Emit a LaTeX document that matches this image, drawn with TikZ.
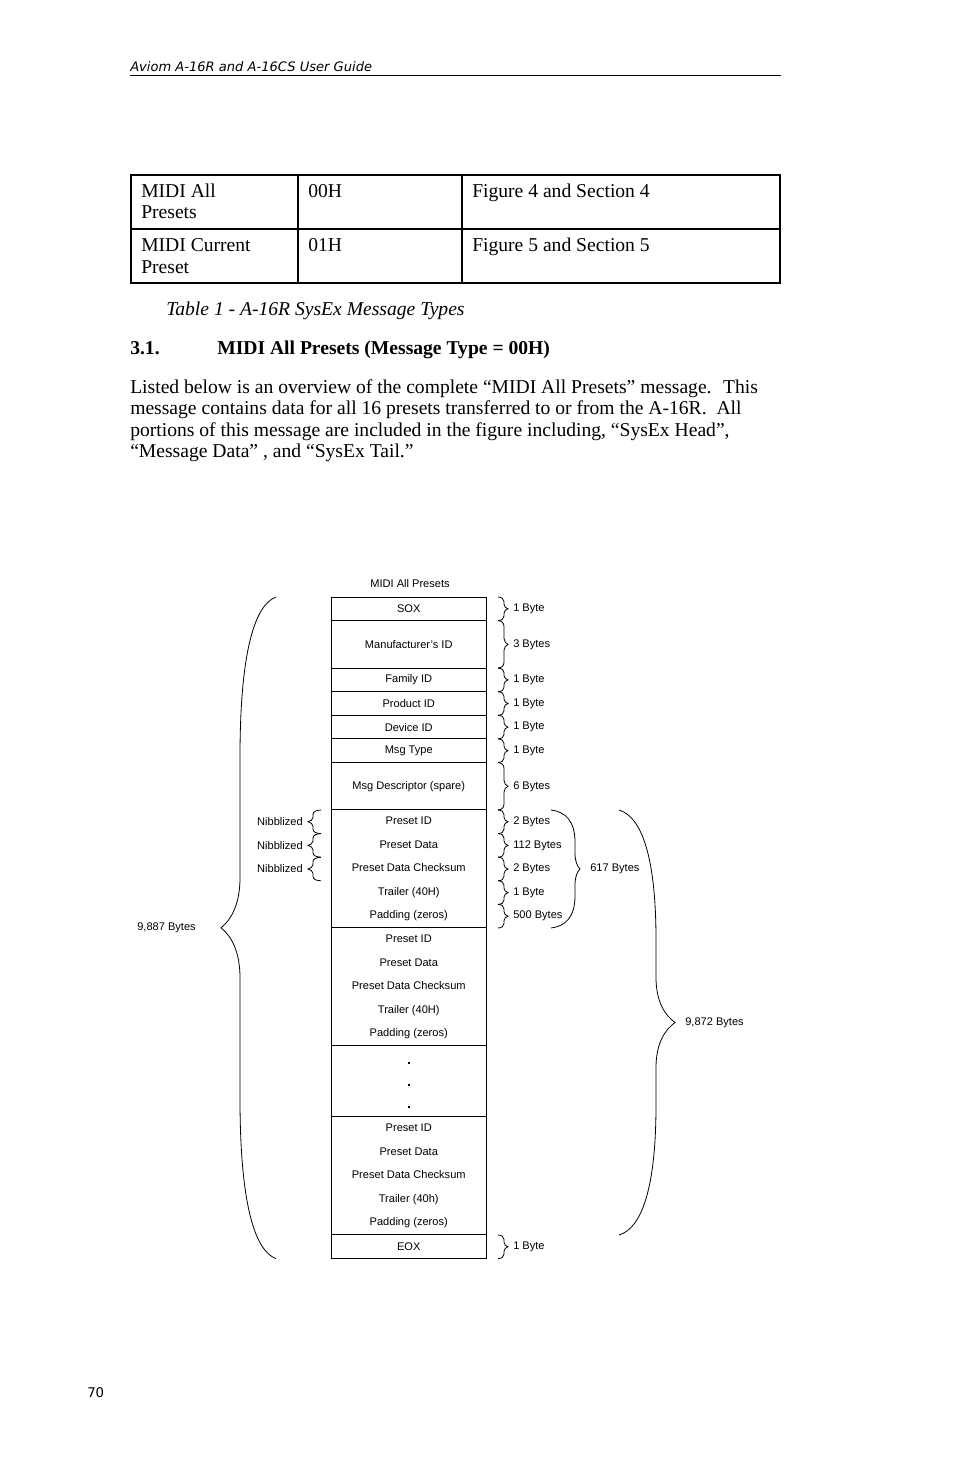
\documentclass[tikz,border=0pt]{standalone}
\usepackage{fontspec}
\setmainfont{Liberation Serif}
\setsansfont{Liberation Sans}
\newfontfamily\guidefont{DejaVu Sans}
\usetikzlibrary{positioning}

\newcommand{\diagfont}{\sffamily\fontsize{8.3}{10}\selectfont}
\newcommand{\bodyfont}{\rmfamily\fontsize{14.7}{16}\selectfont}

% brace: x of ends, top y, bottom y, hook, tip, end curve, tip curve
\newcommand{\sizebrace}[7]{%
  \pgfmathsetmacro{\bym}{(#2+#3)/2}%
  \pgfmathsetmacro{\bxv}{#1+(#4)}%
  \pgfmathsetmacro{\bxt}{#1+(#4)+(#5)}%
  \pgfmathsetmacro{\bxh}{#1+0.6*(#4)}%
  \pgfmathsetmacro{\bxq}{\bxt-0.5*(#5)}%
  \draw[bracestroke] (#1,#2) .. controls (\bxh,#2+0.05*#6) and (\bxv,#2+0.35*#6) .. (\bxv,#2+#6)
    -- (\bxv,\bym-#7) .. controls (\bxv,\bym-0.45*#7) and (\bxq,\bym-0.15*#7) .. (\bxt,\bym)
    .. controls (\bxq,\bym+0.15*#7) and (\bxv,\bym+0.45*#7) .. (\bxv,\bym+#7)
    -- (\bxv,#3-#6) .. controls (\bxv,#3-0.35*#6) and (\bxh,#3-0.05*#6) .. (#1,#3);
}

\begin{document}
\begin{tikzpicture}[
  x=0.75pt, y=-0.75pt,
  pagetext/.style={anchor=base west, inner sep=0pt, font=\bodyfont},
  tableline/.style={line width=1.5pt},
  field/.style={draw, line width=0.75pt, minimum width=116.25pt, minimum height=17.7pt,
    inner sep=0pt, outer sep=0pt, font=\diagfont},
  tallfield/.style={field, minimum height=35.6pt},
  presetblock/.style={field, minimum height=88.5pt, align=center,
    font=\sffamily\fontsize{8.3}{17.7}\selectfont},
  sizelabel/.style={anchor=west, inner sep=0pt, font=\diagfont},
  nibblelabel/.style={anchor=east, inner sep=0pt, font=\diagfont},
  bracestroke/.style={line width=0.6pt}
]
\fill[white] (0,0) rectangle (954,1475);
\useasboundingbox (0,0) rectangle (954,1475);

% page header
\node[anchor=base west, inner sep=0pt, font=\guidefont\itshape\fontsize{9.8}{12}\selectfont] (header) at (130,71.8) {Aviom A-16R and A-16CS User Guide};
\draw[line width=0.75pt] (130,75) -- (781,75);

% message type table
\draw[tableline] (131,175) rectangle (780,283);
\draw[tableline] (131,229) -- (780,229);
\draw[tableline] (298,175) -- (298,283);
\draw[tableline] (462,175) -- (462,283);
\node[pagetext] (allname) at (141,197) {MIDI All};
\node[pagetext] (allnameb) at (141,218.5) {Presets};
\node[pagetext] (allcode) at (308,197) {00H};
\node[pagetext] (allref) at (472,197) {Figure 4 and Section 4};
\node[pagetext] (curname) at (141,251.5) {MIDI Current};
\node[pagetext] (curnameb) at (141,273) {Preset};
\node[pagetext] (curcode) at (308,251.5) {01H};
\node[pagetext] (curref) at (472,251.5) {Figure 5 and Section 5};
\node[pagetext, font=\bodyfont\itshape] (caption) at (166,315.5) {Table 1 - A-16R SysEx Message Types};

% section text
\node[pagetext, font=\bodyfont\bfseries] (secnum) at (130,354.5) {3.1.};
\node[pagetext, font=\bodyfont\bfseries] (sectitle) at (217,354.5) {MIDI All Presets (Message Type = 00H)};
\node[pagetext] (lineone) at (130,393.5) {Listed below is an overview of the complete “MIDI All Presets” message.~ This};
\node[pagetext] (linetwo) at (130,414.8) {message contains data for all 16 presets transferred to or from the A-16R.~ All};
\node[pagetext] (linethree) at (130,436.1) {portions of this message are included in the figure including, “SysEx Head”,};
\node[pagetext] (linefour) at (130,457.4) {“Message Data” , and “SysEx Tail.”};

% message layout
\node[font=\diagfont, inner sep=0pt] (title) at (410,584) {MIDI All Presets};
\node[field, anchor=north] (sox) at (408.75,597) {SOX};
\node[tallfield, below=0pt of sox] (manuf) {Manufacturer’s ID};
\node[field, below=0pt of manuf] (family) {Family ID};
\node[field, below=0pt of family] (product) {Product ID};
\node[field, below=0pt of product] (device) {Device ID};
\node[field, below=0pt of device] (msgtype) {Msg Type};
\node[tallfield, below=0pt of msgtype] (msgdesc) {Msg Descriptor (spare)};
\node[presetblock, below=0pt of msgdesc] (presetone) {Preset ID\\Preset Data\\Preset Data Checksum\\Trailer (40H)\\Padding (zeros)};
\node[presetblock, below=0pt of presetone] (presettwo) {Preset ID\\Preset Data\\Preset Data Checksum\\Trailer (40H)\\Padding (zeros)};
\node[field, minimum height=53.25pt, below=0pt of presettwo] (dots) {};
\node[presetblock, below=0pt of dots] (presetlast) {Preset ID\\Preset Data\\Preset Data Checksum\\Trailer (40h)\\Padding (zeros)};
\node[field, below=0pt of presetlast] (eox) {EOX};
\fill (407.5,1061.8) rectangle (409.9,1064.2);
\fill (407.5,1083.8) rectangle (409.9,1086.2);
\fill (407.5,1105.8) rectangle (409.9,1108.2);

% byte counts
\sizebrace{498}{597}{620.6}{6}{4}{4.5}{4.5}
\sizebrace{498}{620.6}{668.1}{6}{4}{6}{6}
\sizebrace{498}{668.1}{691.7}{6}{4}{4.5}{4.5}
\sizebrace{498}{691.7}{715.3}{6}{4}{4.5}{4.5}
\sizebrace{498}{715.3}{738.9}{6}{4}{4.5}{4.5}
\sizebrace{498}{738.9}{762.5}{6}{4}{4.5}{4.5}
\sizebrace{498}{762.5}{810}{6}{4}{6}{6}
\sizebrace{498}{810}{833.6}{6}{4}{4.5}{4.5}
\sizebrace{498}{833.6}{857.2}{6}{4}{4.5}{4.5}
\sizebrace{498}{857.2}{880.8}{6}{4}{4.5}{4.5}
\sizebrace{498}{880.8}{904.4}{6}{4}{4.5}{4.5}
\sizebrace{498}{904.4}{928}{6}{4}{4.5}{4.5}
\sizebrace{498}{1235}{1258.6}{6}{4}{4.5}{4.5}
\node[sizelabel] (szsox) at (513,608.8) {1 Byte};
\node[sizelabel] (szmanuf) at (513,644.4) {3 Bytes};
\node[sizelabel] (szfamily) at (513,679.9) {1 Byte};
\node[sizelabel] (szproduct) at (513,703.5) {1 Byte};
\node[sizelabel] (szdevice) at (513,727.1) {1 Byte};
\node[sizelabel] (szmsgtype) at (513,750.7) {1 Byte};
\node[sizelabel] (szmsgdesc) at (513,786.3) {6 Bytes};
\node[sizelabel] (szid) at (513,821.8) {2 Bytes};
\node[sizelabel] (szdata) at (513,845.4) {112 Bytes};
\node[sizelabel] (szsum) at (513,869) {2 Bytes};
\node[sizelabel] (sztrailer) at (513,892.6) {1 Byte};
\node[sizelabel] (szpad) at (513,916.2) {500 Bytes};
\node[sizelabel] (szeox) at (513,1246.8) {1 Byte};

% nibblized fields
\sizebrace{321}{810}{833.6}{-8}{-5}{4.5}{4.5}
\sizebrace{321}{833.6}{857.2}{-8}{-5}{4.5}{4.5}
\sizebrace{321}{857.2}{880.8}{-8}{-5}{4.5}{4.5}
\node[nibblelabel] (nibid) at (303,821.8) {Nibblized};
\node[nibblelabel] (nibdata) at (303,845.4) {Nibblized};
\node[nibblelabel] (nibsum) at (303,869) {Nibblized};

% totals
\sizebrace{551}{810}{928}{24}{5}{32}{16}
\sizebrace{619}{810}{1235}{37}{19}{130}{45}
\sizebrace{276}{597}{1258.6}{-36}{-19}{160}{50}
\node[sizelabel] (szpreset) at (590,869) {617 Bytes};
\node[sizelabel] (szpresets) at (685,1022.5) {9,872 Bytes};
\node[nibblelabel] (sztotal) at (196,927.8) {9,887 Bytes};

% page number
\node[anchor=base west, inner sep=0pt, font=\guidefont\fontsize{10}{12}\selectfont] (pagenum) at (87,1397) {70};
\end{tikzpicture}
\end{document}
